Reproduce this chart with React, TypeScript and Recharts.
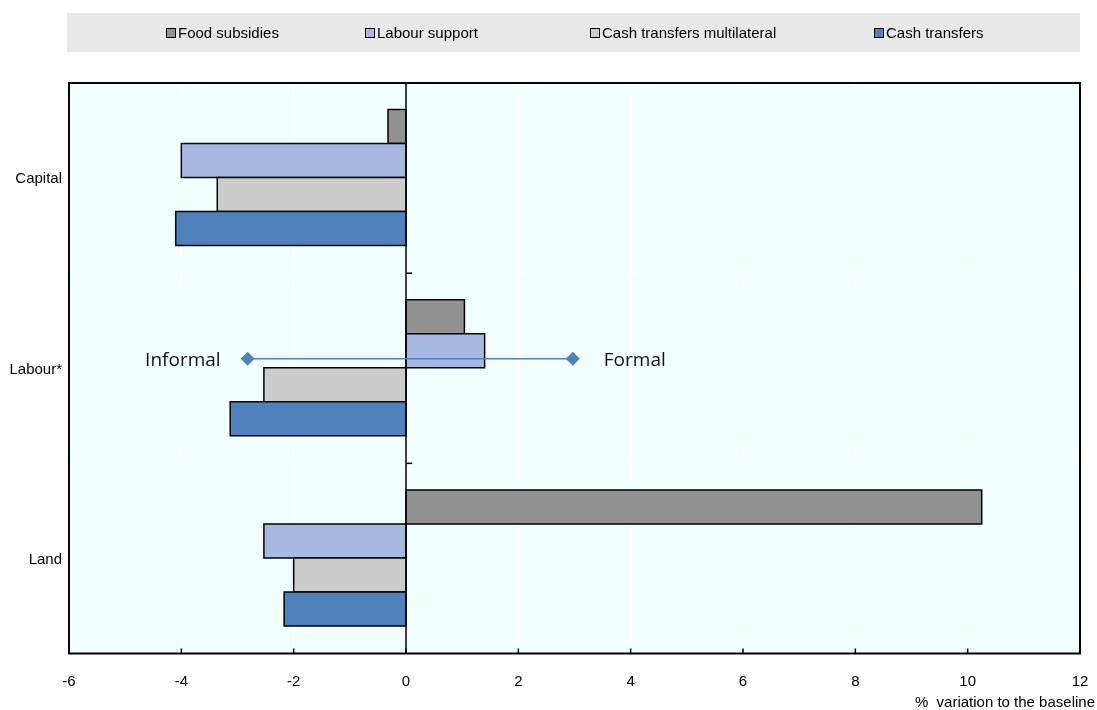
import {
  BarChart,
  Bar,
  XAxis,
  YAxis,
  CartesianGrid,
  Legend,
  ReferenceLine,
  ReferenceDot,
  ReferenceArea,
} from "recharts"

// values (% variation to the baseline)
const categories = ["Capital", "Labour*", "Land"]
const foodSubsidies = [-0.32, 1.04, 10.25]
const labourSupport = [-4.0, 1.4, -2.53]
const cashTransfersMultilateral = [-3.36, -2.53, -2.0]
const cashTransfers = [-4.1, -3.13, -2.17]
const xTicks = [-6, -4, -2, 0, 2, 4, 6, 8, 10, 12]

// informal / formal marker line inside the Labour* band
const informalFormalX = [-2.82, 2.97]
const informalFormalLabels = ["Informal", "Formal"]
const informalFormalCategory = "Labour*"
const LINE_SHIFT = -9.5 // sits a little above the band centre

const series = [
  { key: "food", name: "Food subsidies", color: "#929292" },
  { key: "labour", name: "Labour support", color: "#A7B9E3" },
  { key: "cashMulti", name: "Cash transfers multilateral", color: "#CCCCCC" },
  { key: "cash", name: "Cash transfers", color: "#4F81BD" },
]

const data = categories.map((factor, i) => ({
  factor,
  food: foodSubsidies[i],
  labour: labourSupport[i],
  cashMulti: cashTransfersMultilateral[i],
  cash: cashTransfers[i],
}))

const FONT = "'Liberation Sans', Arial, sans-serif"
const legendX = [99, 298, 523, 807]

function LegendBox() {
  return (
    <div style={{ height: 70 }}>
      <div
        style={{
          position: "relative",
          marginLeft: 59,
          width: 1013,
          height: 39,
          background: "#E8E8E8",
          fontFamily: FONT,
          fontSize: 15,
          color: "#000",
        }}
      >
        {series.map((s, i) => (
          <div
            key={s.key}
            style={{
              position: "absolute",
              left: legendX[i],
              top: 0,
              height: 39,
              display: "flex",
              alignItems: "center",
              whiteSpace: "nowrap",
            }}
          >
            <span
              style={{
                display: "inline-block",
                width: 8,
                height: 8,
                border: "1.5px solid #000",
                background: s.color,
                marginRight: 2,
              }}
            />
            {s.name}
          </div>
        ))}
      </div>
    </div>
  )
}

function XTick({ x, y, payload }: any) {
  return (
    <g>
      <line x1={x} x2={x} y1={y} y2={y - 5} stroke="#000" strokeWidth={1.5} />
      <text x={x} y={y + 32} textAnchor="middle" fontFamily={FONT} fontSize={15} fill="#000">
        {payload.value}
      </text>
    </g>
  )
}

function AxisTitle({ viewBox }: any) {
  return (
    <text
      x={viewBox.x + viewBox.width + 15}
      y={viewBox.y + 53}
      textAnchor="end"
      fontFamily={FONT}
      fontSize={15}
      fill="#000"
      style={{ whiteSpace: "pre" }}
    >
      {"%  variation to the baseline"}
    </text>
  )
}

function diamond(label: string, side: "left" | "right") {
  return (props: any) => {
    const { cx } = props
    const cy = props.cy + LINE_SHIFT
    return (
      <g>
        <path
          d={`M${cx} ${cy - 7}L${cx + 7} ${cy}L${cx} ${cy + 7}L${cx - 7} ${cy}Z`}
          fill="#4F81BD"
        />
        <text
          x={side === "left" ? cx - 27 : cx + 31}
          y={cy + 7}
          textAnchor={side === "left" ? "end" : "start"}
          fontFamily="'Open Sans', sans-serif"
          fontSize={19}
          fill="#111"
        >
          {label}
        </text>
      </g>
    )
  }
}

export default function App() {
  return (
    <div style={{ position: "fixed", left: 8, top: 8 }}>
      <BarChart
        width={1089}
        height={702}
        data={data}
        layout="vertical"
        barCategoryGap="14%"
        barGap={0}
        margin={{ top: 5, right: 17, left: 0, bottom: 6.5 }}
      >
        <Legend verticalAlign="top" wrapperStyle={{ left: 0, top: 5, width: 1089 }} content={() => <LegendBox />} />
        <CartesianGrid
          fill="#F2FFFF"
          stroke="#FFFFFF"
          strokeWidth={1.5}
          horizontalCoordinatesGenerator={({ offset }: any) =>
            categories.slice(1).map((_, i) => offset.top + ((i + 1) * offset.height) / categories.length)
          }
        />
        <XAxis
          type="number"
          domain={[-6, 12]}
          ticks={xTicks}
          interval={0}
          axisLine={false}
          tickLine={false}
          tickSize={0}
          tickMargin={0}
          height={50}
          tick={<XTick />}
          label={<AxisTitle />}
        />
        <YAxis
          type="category"
          dataKey="factor"
          width={61}
          axisLine={false}
          tickLine={false}
          tickSize={0}
          tickMargin={7}
          tick={{ fontFamily: FONT, fontSize: 15, fill: "#000" }}
        />
        <ReferenceArea x1={-6} x2={12} fill="none" stroke="#000" strokeWidth={2} ifOverflow="visible" />
        {series.map((s) => (
          <Bar
            key={s.key}
            dataKey={s.key}
            name={s.name}
            fill={s.color}
            stroke="#000"
            strokeWidth={1.5}
            isAnimationActive={false}
          />
        ))}
        <ReferenceLine x={0} stroke="#000" strokeWidth={1.5} />
        {categories.slice(1).map((c) => (
          <ReferenceLine
            key={c}
            position="start"
            segment={[
              { x: 0, y: c },
              { x: 0.11, y: c },
            ]}
            stroke="#000"
            strokeWidth={1.5}
          />
        ))}
        <ReferenceLine
          segment={[
            { x: informalFormalX[0], y: informalFormalCategory },
            { x: informalFormalX[1], y: informalFormalCategory },
          ]}
          shape={(p: any) => (
            <line
              x1={p.x1}
              y1={p.y1 + LINE_SHIFT}
              x2={p.x2}
              y2={p.y2 + LINE_SHIFT}
              stroke="#4F81BD"
              strokeWidth={1.5}
            />
          )}
        />
        <ReferenceDot
          x={informalFormalX[0]}
          y={informalFormalCategory}
          shape={diamond(informalFormalLabels[0], "left")}
        />
        <ReferenceDot
          x={informalFormalX[1]}
          y={informalFormalCategory}
          shape={diamond(informalFormalLabels[1], "right")}
        />
      </BarChart>
    </div>
  )
}
